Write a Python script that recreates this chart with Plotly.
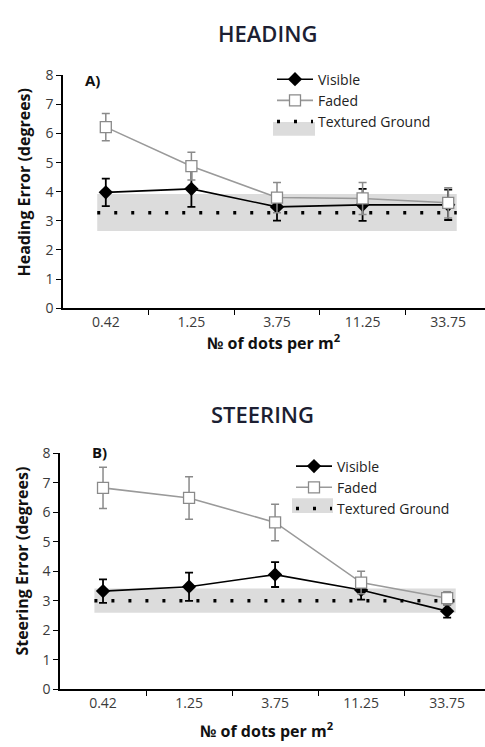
import plotly.graph_objects as go

categories = ["0.42", "1.25", "3.75", "11.25", "33.75"]

heading_visible = [3.98, 4.10, 3.48, 3.55, 3.55]
heading_visible_err = [0.47, 0.62, 0.47, 0.55, 0.52]
heading_faded = [6.22, 4.88, 3.80, 3.77, 3.62]
heading_faded_err = [0.47, 0.48, 0.52, 0.55, 0.52]
heading_ground = 3.28
heading_ground_band = [2.65, 3.92]

steering_visible = [3.33, 3.48, 3.89, 3.37, 2.65]
steering_visible_err = [0.40, 0.48, 0.42, 0.33, 0.22]
steering_faded = [6.83, 6.49, 5.66, 3.62, 3.09]
steering_faded_err = [0.70, 0.72, 0.62, 0.38, 0.22]
steering_ground = 3.0
steering_ground_band = [2.6, 3.42]

W, H = 485, 747
FONT = "Open Sans"
idx = list(range(len(categories)))

fig = go.Figure()

def px(x):
    return x / W

def py(y):
    return (H - y) / H

def add_panel(xa, ya, visible, verr, faded, ferr, ground, band, legend):
    xb = [-0.1, len(categories) - 1 + 0.1]
    fig.add_trace(go.Scatter(
        x=[xb[0], xb[1], xb[1], xb[0], xb[0]],
        y=[band[0], band[0], band[1], band[1], band[0]],
        fill="toself", fillcolor="#dcdcdc", line=dict(width=0),
        mode="lines", showlegend=False, hoverinfo="skip",
        xaxis=xa, yaxis=ya))
    fig.add_trace(go.Scatter(
        x=xb, y=[ground, ground], mode="lines",
        line=dict(color="black", width=3.5, dash="3px,14px"),
        name="Textured Ground", legend=legend, legendrank=3,
        xaxis=xa, yaxis=ya))
    fig.add_trace(go.Scatter(
        x=idx, y=visible, mode="lines+markers", name="Visible",
        line=dict(color="black", width=1.6),
        marker=dict(symbol="diamond", size=11, color="black"),
        error_y=dict(type="data", array=verr, color="black", thickness=1.8, width=4),
        legend=legend, legendrank=1, xaxis=xa, yaxis=ya))
    fig.add_trace(go.Scatter(
        x=idx, y=faded, mode="lines+markers", name="Faded",
        line=dict(color="#9a9a9a", width=1.6),
        marker=dict(symbol="square", size=11, color="white",
                    line=dict(color="#8a8a8a", width=1.3)),
        error_y=dict(type="data", array=ferr, color="#8a8a8a", thickness=1.5, width=4),
        legend=legend, legendrank=2, xaxis=xa, yaxis=ya))

add_panel("x", "y", heading_visible, heading_visible_err, heading_faded,
          heading_faded_err, heading_ground, heading_ground_band, "legend")
add_panel("x2", "y2", steering_visible, steering_visible_err, steering_faded,
          steering_faded_err, steering_ground, steering_ground_band, "legend2")

tickfont = dict(family=FONT, size=14, color="#3a3a3a")

def xaxis(domain, rng, anchor):
    return dict(domain=domain, range=rng, anchor=anchor,
                tickmode="array", tickvals=idx, ticktext=categories,
                ticks="", showgrid=False, zeroline=False,
                showline=True, linecolor="black", linewidth=1.5,
                tickfont=tickfont,
                minor=dict(tickmode="array", tickvals=[i + 0.5 for i in idx[:-1]],
                           ticks="outside", ticklen=5, tickcolor="black", tickwidth=1,
                           showgrid=False))

def yaxis(domain, anchor):
    return dict(domain=domain, range=[0, 8], anchor=anchor,
                tickmode="array", tickvals=list(range(9)),
                ticks="outside", ticklen=5, tickcolor="black", tickwidth=1,
                showgrid=False, zeroline=False, showline=True,
                linecolor="black", linewidth=1.5, tickfont=tickfont)

legend_font = dict(family=FONT, size=14, color="#222222")

fig.update_layout(
    width=W, height=H,
    margin=dict(l=0, r=0, t=0, b=0),
    paper_bgcolor="white", plot_bgcolor="white",
    xaxis=xaxis([px(63), 1], [-0.5, 4.43], "y"),
    yaxis=yaxis([py(306), py(67)], "x"),
    xaxis2=xaxis([px(60), 1], [-0.5, 4.44], "y2"),
    yaxis2=yaxis([py(697), py(455)], "x2"),
    legend=dict(x=px(272), y=py(55), xanchor="left", yanchor="top",
                bgcolor="rgba(0,0,0,0)", font=legend_font, itemwidth=36,
                tracegroupgap=0),
    legend2=dict(x=px(291), y=py(452), xanchor="left", yanchor="top",
                 bgcolor="rgba(0,0,0,0)", font=legend_font, itemwidth=36,
                 tracegroupgap=0),
    showlegend=True,
)

# grey swatch behind "Textured Ground" legend symbol
fig.add_shape(type="rect", xref="paper", yref="paper",
              x0=px(273), x1=px(315), y0=py(129), y1=py(115),
              fillcolor="#dcdcdc", line=dict(width=0), layer="below")
fig.add_shape(type="rect", xref="paper", yref="paper",
              x0=px(292), x1=px(333), y0=py(516), y1=py(501),
              fillcolor="#dcdcdc", line=dict(width=0), layer="below")

title_font = dict(family=FONT, size=22, color="#1c1f33", weight=600)
bold = dict(family=FONT, size=16, color="#111111")

ann = [
    dict(text="HEADING", x=px(267), y=py(24), font=title_font),
    dict(text="STEERING", x=px(262), y=py(415), font=title_font),
    dict(text="<b>A)</b>", x=px(92), y=py(72), font=dict(family=FONT, size=15, color="#111")),
    dict(text="<b>B)</b>", x=px(99), y=py(454), font=dict(family=FONT, size=15, color="#111")),
    dict(text="<b>Heading Error (degrees)</b>", x=px(24), y=py(177), textangle=-90, font=bold),
    dict(text="<b>Steering Error (degrees)</b>", x=px(22), y=py(566), textangle=-90, font=bold),
    dict(text="<b>№ of dots per m<sup>2</sup></b>", x=px(274), y=py(341), font=bold),
    dict(text="<b>№ of dots per m<sup>2</sup></b>", x=px(267), y=py(739), font=bold),
]
for a in ann:
    fig.add_annotation(xref="paper", yref="paper", showarrow=False,
                       xanchor="center", yanchor="middle", **a)

fig.write_html("out.html")
